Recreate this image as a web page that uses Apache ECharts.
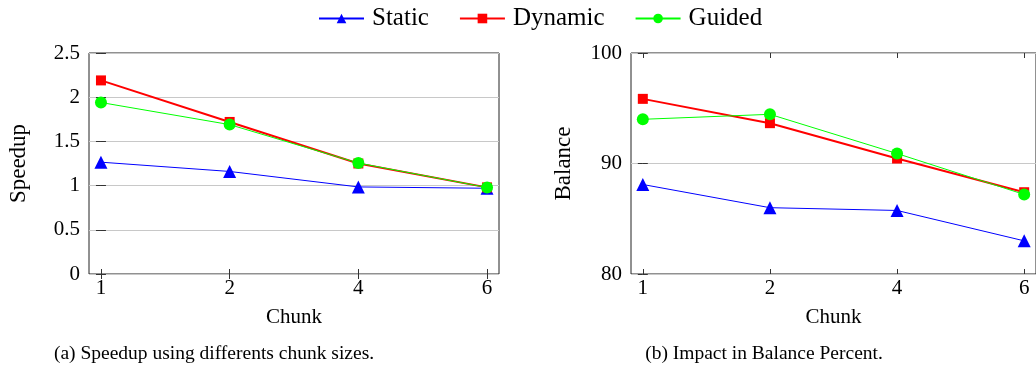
<!DOCTYPE html>
<html>
<head>
<meta charset="utf-8">
<script src="https://cdn.jsdelivr.net/npm/echarts@6/dist/echarts.min.js"></script>
<style>html,body{margin:0;padding:0;background:#fff}#c{width:1036px;height:375px}</style>
</head>
<body>
<div id="c"></div>
<script>
const chunkLabels = ['1', '2', '4', '6'];
const seriesNames = ['Static', 'Dynamic', 'Guided'];
const speedupStatic = [1.265, 1.16, 0.985, 0.97];
const speedupDynamic = [2.19, 1.72, 1.25, 0.98];
const speedupGuided = [1.94, 1.69, 1.255, 0.978];
const balanceStatic = [88.1, 86.0, 85.75, 83.0];
const balanceDynamic = [95.85, 93.65, 90.45, 87.4];
const balanceGuided = [94.0, 94.45, 90.9, 87.2];
const speedupTicks = [0, 0.5, 1, 1.5, 2, 2.5];
const balanceTicks = [80, 90, 100];

const FONT = 'Liberation Serif';
const idx = chunkLabels.map((_, i) => i);
const pts = arr => arr.map((v, i) => [idx[i], v]);

const colors = ['#0000ff', '#ff0000', '#00ff00'];
const symbols = ['triangle', 'rect', 'circle'];
const symSizes = [13, 10, 12];
const widths = [1, 2, 1];

function xAxes(gi) {
  const base = {
    type: 'value', gridIndex: gi, min: -0.093, max: 3.093,
    splitLine: { show: false },
    axisLine: { show: false },
    axisTick: { show: true, inside: true, length: 5, customValues: idx, lineStyle: { color: '#333' } }
  };
  return [
    Object.assign({}, base, {
      position: 'bottom',
      name: 'Chunk', nameLocation: 'middle', nameGap: 33,
      nameTextStyle: { fontFamily: FONT, fontSize: 21, color: '#000' },
      axisLabel: { customValues: idx, formatter: v => chunkLabels[Math.round(v)], fontFamily: FONT, fontSize: 21, color: '#000', margin: 4 }
    }),
    Object.assign({}, base, { position: 'top', axisLabel: { show: false } })
  ];
}
function yAxes(gi, min, max, name, gap) {
  const ticks = gi === 0 ? speedupTicks : balanceTicks;
  const base = {
    type: 'value', gridIndex: gi, min, max, interval: ticks[1] - ticks[0],
    axisLine: { show: false },
    axisTick: { show: true, inside: true, length: 5, lineStyle: { color: '#333' } }
  };
  return [
    Object.assign({}, base, {
      position: 'left',
      name, nameLocation: 'middle', nameGap: gap,
      nameTextStyle: { fontFamily: FONT, fontSize: 23, color: '#000' },
      splitLine: { show: true, lineStyle: { color: '#c8c8c8', width: 1 } },
      axisLabel: { fontFamily: FONT, fontSize: 21, color: '#000', margin: 9, formatter: v => String(v) }
    }),
    Object.assign({}, base, { position: 'right', splitLine: { show: false }, axisLabel: { show: false } })
  ];
}

function mkSeries(k, data, gi) {
  return {
    name: seriesNames[k], type: 'line', xAxisIndex: gi * 2, yAxisIndex: gi * 2,
    data: pts(data), symbol: symbols[k], symbolSize: symSizes[k],
    itemStyle: { color: colors[k] }, lineStyle: { color: colors[k], width: widths[k] },
    z: 2 + k, animation: false
  };
}

const chart = echarts.init(document.getElementById('c'));
chart.setOption({
  animation: false,
  legend: {
    top: 1, left: 313, itemWidth: 45, itemHeight: 12, itemGap: 30,
    textStyle: { fontFamily: FONT, fontSize: 25, color: '#000', padding: [0, 0, 0, 3] },
    data: seriesNames
  },
  title: [
    { text: '(a) Speedup using differents chunk sizes.', left: 209, top: 339, textAlign: 'center',
      textStyle: { fontFamily: FONT, fontSize: 19.5, fontWeight: 'normal', color: '#000' } },
    { text: '(b) Impact in Balance Percent.', left: 759, top: 339, textAlign: 'center',
      textStyle: { fontFamily: FONT, fontSize: 19.5, fontWeight: 'normal', color: '#000' } }
  ],
  grid: [
    { left: 89, top: 53, width: 410, height: 221, show: true, borderColor: '#222', borderWidth: 1, backgroundColor: 'transparent' },
    { left: 631, top: 53, width: 410, height: 221, show: true, borderColor: '#222', borderWidth: 1, backgroundColor: 'transparent' }
  ],
  xAxis: xAxes(0).concat(xAxes(1)),
  yAxis: yAxes(0, 0, 2.5, 'Speedup', 59).concat(yAxes(1, 80, 100, 'Balance', 56)),
  series: [
    mkSeries(0, speedupStatic, 0), mkSeries(1, speedupDynamic, 0), mkSeries(2, speedupGuided, 0),
    mkSeries(0, balanceStatic, 1), mkSeries(1, balanceDynamic, 1), mkSeries(2, balanceGuided, 1)
  ]
});
</script>
</body>
</html>
